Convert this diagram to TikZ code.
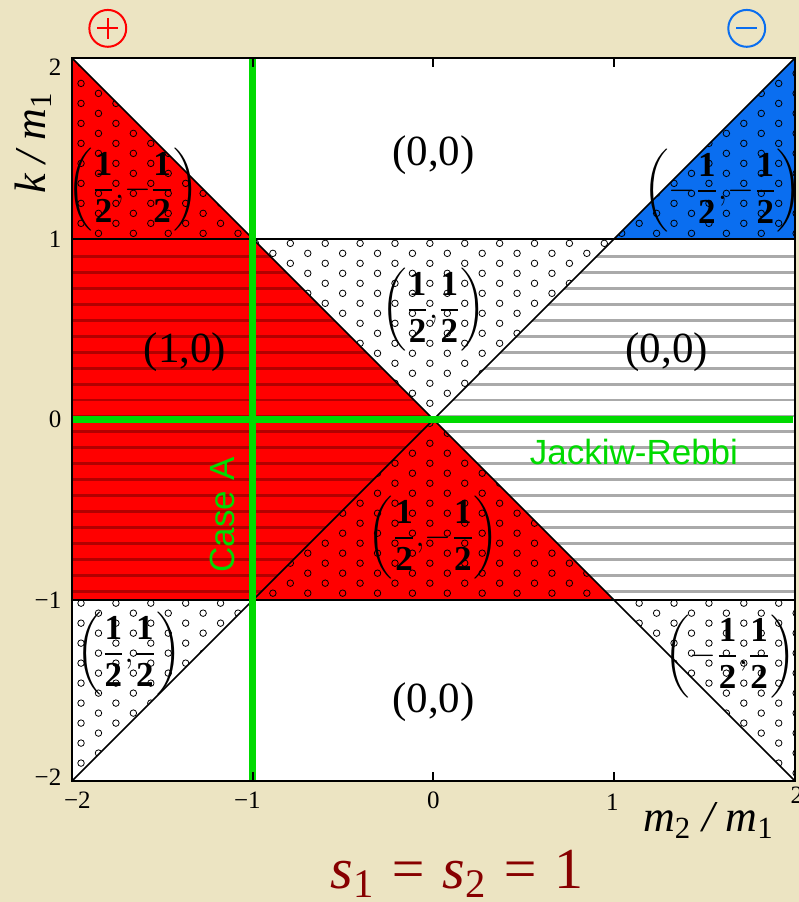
\documentclass[tikz,border=0pt]{standalone}
\usepackage{amsmath}
\usepackage{fontspec}
\setmainfont{Liberation Serif}
\setsansfont{Liberation Sans}
\usetikzlibrary{arrows.meta,positioning,calc}

\definecolor{parchment}{RGB}{236,228,194}
\definecolor{phasered}{RGB}{255,0,0}
\definecolor{stripered}{RGB}{178,0,0}
\definecolor{phaseblue}{RGB}{10,110,240}
\definecolor{stripegrey}{RGB}{170,170,170}
\definecolor{casegreen}{RGB}{0,218,0}
\definecolor{titlered}{RGB}{135,0,0}

% winding number pair with halves
\newcommand{\halfpair}[2]{$\left({#1}\dfrac{\textbf{1}}{\textbf{2}}{,}{#2}\dfrac{\textbf{1}}{\textbf{2}}\right)$}
% staggered sheet of small rings (rows #1..#2, columns #3..#4)
\newcommand{\dotsheet}[4]{%
  \foreach \j in {#1,...,#2}{%
    \foreach \i in {#3,...,#4}{%
      \draw[dotring] ({-1.95+0.193*\i+0.0965*mod(\j,2)},{1.97-0.0553*\j}) circle[radius=0.018];
    }}}

\begin{document}
\begin{tikzpicture}[x=90.375pt,y=90.375pt,
  frame/.style={line width=1pt},
  boundary/.style={line width=0.85pt},
  dotring/.style={line width=0.4pt},
  redstripe/.style={stripered,line width=1.4pt},
  greystripe/.style={stripegrey,line width=1.4pt},
  greenline/.style={casegreen,line width=3.3pt},
  ticklab/.style={font=\fontsize{12.5}{14}\selectfont},
  phase/.style={font=\fontsize{21.5}{24}\selectfont},
  halfphase/.style={font=\fontsize{17.5}{20}\selectfont},
  greenlab/.style={casegreen,font=\sffamily\fontsize{17.5}{20}\selectfont},
  axislab/.style={font=\itshape\fontsize{22}{26}\selectfont}]
  % page
  \fill[parchment] (-2.39834,2.32089) rectangle (2.02213,-2.66943);
  \useasboundingbox (-2.39834,2.32089) rectangle (2.02213,-2.66943);
  \fill[white] (-2,-2) rectangle (2,2);
  % coloured phases
  \fill[phasered] (-2,2) -- (-2,1) -- (-1,1) -- cycle;
  \fill[phaseblue] (2,2) -- (2,1) -- (1,1) -- cycle;
  \fill[phasered] (-2,1) -- (-1,1) -- (0,0) -- (-1,-1) -- (-2,-1) -- cycle;
  \fill[phasered] (-1,-1) -- (1,-1) -- (0,0) -- cycle;
  % stripes
  \begin{scope}
    \clip (-2,1) -- (-1,1) -- (0,0) -- (-1,-1) -- (-2,-1) -- cycle;
    \foreach \k in {0,...,21}
      \draw[redstripe] (-2,{0.9007-0.0881*\k}) -- (0,{0.9007-0.0881*\k});
  \end{scope}
  \begin{scope}
    \clip (0,0) -- (1,1) -- (2,1) -- (2,-1) -- (1,-1) -- cycle;
    \foreach \k in {0,...,21}
      \draw[greystripe] (0,{0.9007-0.0881*\k}) -- (2,{0.9007-0.0881*\k});
  \end{scope}
  % rings
  \begin{scope}
    \clip (-2,2) -- (-2,1) -- (-1,1) -- cycle;
    \dotsheet{0}{18}{0}{5}
  \end{scope}
  \begin{scope}
    \clip (2,2) -- (2,1) -- (1,1) -- cycle;
    \dotsheet{0}{18}{9}{20}
  \end{scope}
  \begin{scope}
    \clip (-1,1) -- (1,1) -- (0,0) -- cycle;
    \dotsheet{17}{37}{4}{15}
  \end{scope}
  \begin{scope}
    \clip (-1,-1) -- (1,-1) -- (0,0) -- cycle;
    \dotsheet{35}{55}{4}{15}
  \end{scope}
  \begin{scope}
    \clip (-2,-1) -- (-1,-1) -- (-2,-2) -- cycle;
    \dotsheet{53}{72}{0}{5}
  \end{scope}
  \begin{scope}
    \clip (1,-1) -- (2,-1) -- (2,-2) -- cycle;
    \dotsheet{53}{72}{9}{20}
  \end{scope}
  % phase boundaries
  \draw[boundary] (-2,2) -- (2,-2);
  \draw[boundary] (-2,-2) -- (2,2);
  \draw[frame] (-2,1) -- (2,1);
  \draw[frame] (-2,-1) -- (2,-1);
  % special lines
  \draw[greenline] (-1,2) -- (-1,-2);
  \draw[greenline] (-2,0) -- (1.99,0);
  \draw[frame] (-2,-2) rectangle (2,2);
  \foreach \t in {-1,0,1} {
    \draw[frame] (\t,2) -- (\t,1.95);
    \draw[frame] (\t,-2) -- (\t,-1.95);
  }
  % ticks
  \node[ticklab,anchor=east] (ky2) at (-2.02,1.95) {2};
  \node[ticklab,anchor=east] (ky1) at (-2.02,1) {1};
  \node[ticklab,anchor=east] (ky0) at (-2.02,0) {0};
  \node[ticklab,anchor=east] (kym1) at (-2.02,-1) {−1};
  \node[ticklab,anchor=east] (kym2) at (-2.02,-1.98) {−2};
  \node[ticklab] (mxm2) at (-1.97,-2.105) {−2};
  \node[ticklab] (mxm1) at (-1.03,-2.105) {−1};
  \node[ticklab] (mx0) at (0,-2.105) {0};
  \node[ticklab] (mx1) at (0.99,-2.12) {1};
  \node[ticklab] (mx2) at (2.01,-2.08) {2};
  \node[axislab,rotate=90] (klab) at (-2.216,1.53) {k / m$_{\textup{1}}$};
  \node[axislab,anchor=base] (mlab) at (1.521,-2.282) {m$_{\textup{2}}$ / m$_{\textup{1}}$};
  % phase labels
  \node[phase] (ptop) at (0,1.465) {(0,0)};
  \node[phase] (pleft) at (-1.375,0.373) {(1,0)};
  \node[phase] (pright) at (1.29,0.373) {(0,0)};
  \node[phase] (pbottom) at (0,-1.563) {(0,0)};
  \node[halfphase] (hmidtop) at (0,0.606) {\halfpair{}{}};
  \node[halfphase] (hmidbot) at (0,-0.656) {\halfpair{}{-}};
  \node[halfphase] (htopleft) at (-1.663,1.27) {\halfpair{}{-}};
  \node[halfphase] (htopright) at (1.6,1.264) {\halfpair{-}{-}};
  \node[halfphase] (hbotleft) at (-1.684,-1.297) {\halfpair{}{}};
  \node[halfphase] (hbotright) at (1.64,-1.309) {\halfpair{-}{}};
  \node[greenlab,rotate=90] (casea) at (-1.165,-0.528) {Case A};
  \node[greenlab] (jr) at (1.109,-0.18) {Jackiw-Rebbi};
  % sign markers
  \coordinate (plus) at (-1.802,2.164);
  \coordinate (minus) at (1.733,2.164);
  \draw[red,line width=1pt] (plus) circle[radius=0.102];
  \draw[red,line width=1pt] ($(plus)+(-0.058,0)$) -- ($(plus)+(0.058,0)$);
  \draw[red,line width=1pt] ($(plus)+(0,-0.058)$) -- ($(plus)+(0,0.058)$);
  \draw[phaseblue,line width=1pt] (minus) circle[radius=0.102];
  \draw[phaseblue,line width=1pt] ($(minus)+(-0.058,0)$) -- ($(minus)+(0.058,0)$);
  % title
  \node[titlered,anchor=base,font=\itshape\fontsize{29}{33}\selectfont] (title) at (0.13,-2.592)
    {s$_{\textup{1}}$ = s$_{\textup{2}}$ = \textup{1}};
\end{tikzpicture}
\end{document}
